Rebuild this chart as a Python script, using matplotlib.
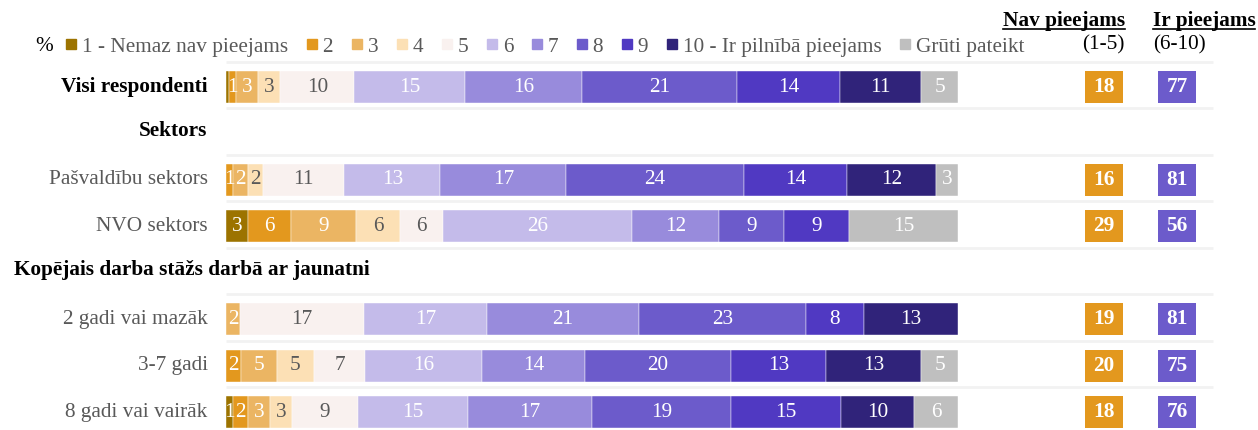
import numpy as np
import matplotlib.pyplot as plt
from matplotlib.lines import Line2D

plt.rcParams['font.family'] = ['Liberation Serif', 'DejaVu Serif']

# kategorijas un krasas
categories = ['1 - Nemaz nav pieejams', '2', '3', '4', '5', '6', '7', '8', '9',
              '10 - Ir pilnībā pieejams', 'Grūti pateikt']
colors = ['#9C7300', '#E3981E', '#EBB563', '#FCE0B5', '#F9F1EF', '#C4BBEA',
          '#988BDC', '#6C5BCB', '#5039C2', '#30237A', '#BFBFBF']
text_colors = ['white', 'white', 'white', '#595959', '#595959', 'white',
               'white', 'white', 'white', 'white', 'white']

# dati (%)
row_names = ['Visi respondenti', 'Pašvaldību sektors', 'NVO sektors',
             '2 gadi vai mazāk', '3-7 gadi', '8 gadi vai vairāk']
visi = [0.4, 1, 3, 3, 10, 15, 16, 21, 14, 11, 5]
pasvaldibu = [0, 1, 2, 2, 11, 13, 17, 24, 14, 12, 3]
nvo = [3, 6, 9, 6, 6, 26, 12, 9, 9, 0, 15]
stazs_2 = [0, 0, 2, 0, 17, 17, 21, 23, 8, 13, 0]
stazs_3_7 = [0, 2, 5, 5, 7, 16, 14, 20, 13, 13, 5]
stazs_8 = [1, 2, 3, 3, 9, 15, 17, 19, 15, 10, 6]
nav_pieejams = [18, 16, 29, 19, 20, 18]
ir_pieejams = [77, 81, 56, 81, 75, 76]

group_titles = ['Sektors', 'Kopējais darba stāžs darbā ar jaunatni']

rows = [visi, pasvaldibu, nvo, stazs_2, stazs_3_7, stazs_8]
slots = [0, 2, 3, 5, 6, 7]
group_slots = [1, 4]

FS = 15.3

fig = plt.figure(figsize=(12.58, 4.30), dpi=100)
ax = fig.add_axes([0, 0, 1, 1])
ax.set_xlim(-30.87, 140.98)
ax.set_ylim(7.387, -1.874)
ax.axis('off')

# atdalitajlinijas
ax.hlines(np.arange(-1, 7) + 0.46, 0, 134.8, color='#F2F2F2', lw=2, zorder=0)

bar_h = 0.69
for name, vals, y in zip(row_names, rows, slots):
    vals = np.array(vals, dtype=float)
    widths = vals / vals.sum() * 100
    left = 0
    for j, (v, w) in enumerate(zip(vals, widths)):
        if w > 0:
            ax.barh(y, w, left=left, height=bar_h, color=colors[j],
                    edgecolor='white', linewidth=0.3)
            if round(v) >= 1:
                ax.text(left + w / 2, y, str(int(round(v))), ha='center', va='center',
                        color=text_colors[j], fontsize=FS)
        left += w
    bold = name == 'Visi respondenti'
    ax.text(-2.5, y, name, ha='right', va='center', fontsize=FS,
            color='black' if bold else '#595959',
            fontweight='bold' if bold else 'normal')

for title, y in zip(group_titles, group_slots):
    if title == 'Sektors':
        ax.text(-2.5, y - 0.05, title, ha='right', va='center', fontsize=FS, fontweight='bold')
    else:
        ax.text(-29.0, y - 0.05, title, ha='left', va='center', fontsize=FS, fontweight='bold')

# kopsavilkuma kolonnas
for y, nv, ir in zip(slots, nav_pieejams, ir_pieejams):
    ax.barh(y, 5.2, left=119.9 - 2.6, height=bar_h, color='#E3981E')
    ax.text(119.9, y, str(nv), ha='center', va='center', color='white',
            fontsize=FS, fontweight='bold')
    ax.barh(y, 5.2, left=129.9 - 2.6, height=bar_h, color='#6C5BCB')
    ax.text(129.9, y, str(ir), ha='center', va='center', color='white',
            fontsize=FS, fontweight='bold')

h1 = ax.text(122.8, -1.314, 'Nav pieejams', ha='right', va='baseline',
             fontsize=FS, fontweight='bold')
h2 = ax.text(126.6, -1.314, 'Ir pieejams', ha='left', va='baseline',
             fontsize=FS, fontweight='bold')
ax.text(122.8, -0.90, '(1-5)', ha='right', va='center', fontsize=FS)
ax.text(126.6, -0.90, '(6-10)', ha='left', va='center', fontsize=FS)

# legenda
ax.text(-24.9, -0.87, '%', ha='center', va='center', fontsize=FS)
handles = [Line2D([], [], marker='s', linestyle='none', markersize=7.4, color=c)
           for c in colors]
leg = ax.legend(handles, categories, loc='center left', bbox_to_anchor=(0.0525, 0.891),
                ncol=11, frameon=False, fontsize=FS, handlelength=0.5,
                handletextpad=0.25, columnspacing=0.87, borderpad=0, borderaxespad=0)
for t in leg.get_texts():
    t.set_color('#595959')

# pasvitrojums virsrakstiem
fig.canvas.draw()
renderer = fig.canvas.get_renderer()
inv = ax.transData.inverted()
for t in (h1, h2):
    bb = t.get_window_extent(renderer)
    x0 = inv.transform((bb.x0, bb.y0))[0]
    x1 = inv.transform((bb.x1, bb.y0))[0]
    ax.plot([x0, x1], [-1.25, -1.25], color='black', lw=1.2)

fig.savefig('out.png', dpi=100)
